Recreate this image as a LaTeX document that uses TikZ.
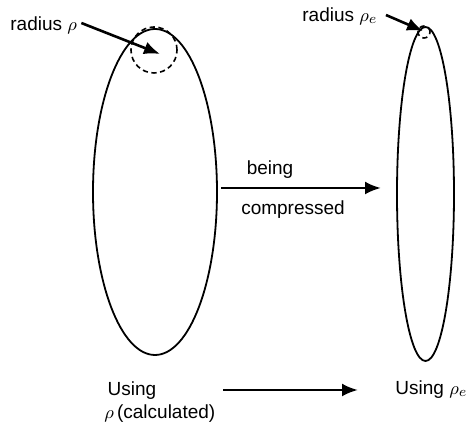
\documentclass[tikz,border=0pt]{standalone}
\usepackage{fontspec}
\setmainfont{Liberation Sans}
\usetikzlibrary{arrows.meta,shapes.geometric}

\begin{document}
\begin{tikzpicture}[x=0.5pt,y=-0.5pt,
  font=\fontsize{9.5}{11.4}\selectfont,
  body/.style={draw,ellipse,line width=0.9pt,inner sep=0pt},
  hole/.style={draw,circle,dash pattern=on 2.6pt off 1.8pt,line width=0.8pt,inner sep=0pt},
  pointer/.style={line width=1.3pt,-{Latex[length=8pt,width=6.5pt]}}]
\useasboundingbox (0,0) rectangle (472,426);
\node[body,minimum width=62pt,minimum height=163pt] (big) at (155,192) {};
\node[body,minimum width=28.5pt,minimum height=167pt] (slim) at (425.5,194) {};
\node[hole,minimum size=23pt] (circ) at (154,50) {};
\node[hole,minimum size=6pt] (circe) at (424,32) {};
\node[anchor=west,inner sep=0pt] (rad) at (10,25) {radius $\rho$};
\node[anchor=west,inner sep=0pt] (rade) at (302,16) {radius $\rho_e$};
\node (being) at (270,170) {being};
\node (compr) at (293,210) {compressed};
\node[anchor=west,align=left,inner sep=0pt] (usel) at (104,402) {\,Using\\$\rho$\,(calculated)};
\node[anchor=west,inner sep=0pt] (usee) at (395,390) {Using $\rho_e$};
\coordinate (ml) at (221,188);
\coordinate (mr) at (381,188);
\coordinate (bl) at (223,390);
\coordinate (br) at (358,390);
\draw[pointer] ([xshift=2pt,yshift=1pt]rad.east) -- ([xshift=3pt,yshift=-2pt]circ.center);
\draw[pointer] ([xshift=4pt,yshift=0.5pt]rade.east) -- ([xshift=-0.5pt,yshift=0.5pt]circe.center);
\draw[pointer] (ml) -- (mr);
\draw[pointer] (bl) -- (br);
\end{tikzpicture}
\end{document}
